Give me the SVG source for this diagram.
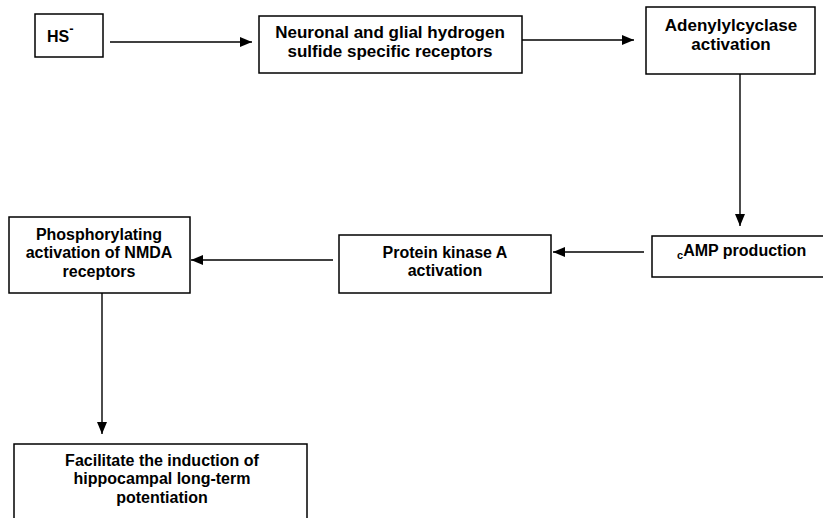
<svg xmlns="http://www.w3.org/2000/svg" width="823" height="518" viewBox="0 0 823 518">
<style>
.box{fill:#fff;stroke:#000;stroke-width:1.5}
.t{font-family:"Liberation Sans",Arial,sans-serif;font-weight:bold;font-size:16px;fill:#000;text-anchor:middle}
.l{font-size:17px}
.s{text-anchor:start}
.c{stroke:#000;stroke-width:1.4;fill:none;marker-end:url(#ah)}
</style>
<defs>
<marker id="ah" markerUnits="userSpaceOnUse" markerWidth="12" markerHeight="10" viewBox="0 0 12 10" refX="12" refY="5" orient="auto">
<path d="M0,0 L12,5 L0,10 Z" fill="#000"/>
</marker>
</defs>
<rect width="823" height="518" fill="#fff"/>
<g id="connectors">
<line class="c" x1="110" y1="42" x2="252" y2="42"/>
<line class="c" x1="522" y1="40" x2="634" y2="40"/>
<line class="c" x1="740" y1="74" x2="740" y2="226"/>
<line class="c" x1="644" y1="252" x2="553" y2="252"/>
<line class="c" x1="333" y1="260" x2="191" y2="260"/>
<line class="c" x1="102" y1="293" x2="102" y2="434"/>
</g>
<g id="hs">
<rect class="box" x="35" y="14" width="68" height="43"/>
<text class="t s" x="47" y="42">HS<tspan font-size="13" dy="-9">-</tspan></text>
</g>
<g id="receptors">
<rect class="box" x="259" y="16" width="263" height="57"/>
<text class="t l" x="390" y="38">Neuronal and glial hydrogen</text>
<text class="t l" x="390" y="57">sulfide specific receptors</text>
</g>
<g id="adenylyl">
<rect class="box" x="646" y="7" width="169" height="67"/>
<text class="t l" x="731" y="31">Adenylylcyclase</text>
<text class="t l" x="731" y="50">activation</text>
</g>
<g id="camp">
<rect class="box" x="652" y="236" width="172" height="41"/>
<text class="t s" x="677" y="259"><tspan font-size="11">c</tspan><tspan dy="-3">AMP production</tspan></text>
</g>
<g id="pka">
<rect class="box" x="339" y="235" width="212" height="58"/>
<text class="t" x="445" y="258">Protein kinase A</text>
<text class="t" x="445" y="276">activation</text>
</g>
<g id="nmda">
<rect class="box" x="9" y="217" width="181" height="76"/>
<text class="t" x="99" y="240">Phosphorylating</text>
<text class="t" x="99" y="258">activation of NMDA</text>
<text class="t" x="99" y="277">receptors</text>
</g>
<g id="ltp">
<rect class="box" x="14" y="444" width="293" height="90"/>
<text class="t" x="162" y="466">Facilitate the induction of</text>
<text class="t" x="162" y="484">hippocampal long-term</text>
<text class="t" x="162" y="503">potentiation</text>
</g>
</svg>
